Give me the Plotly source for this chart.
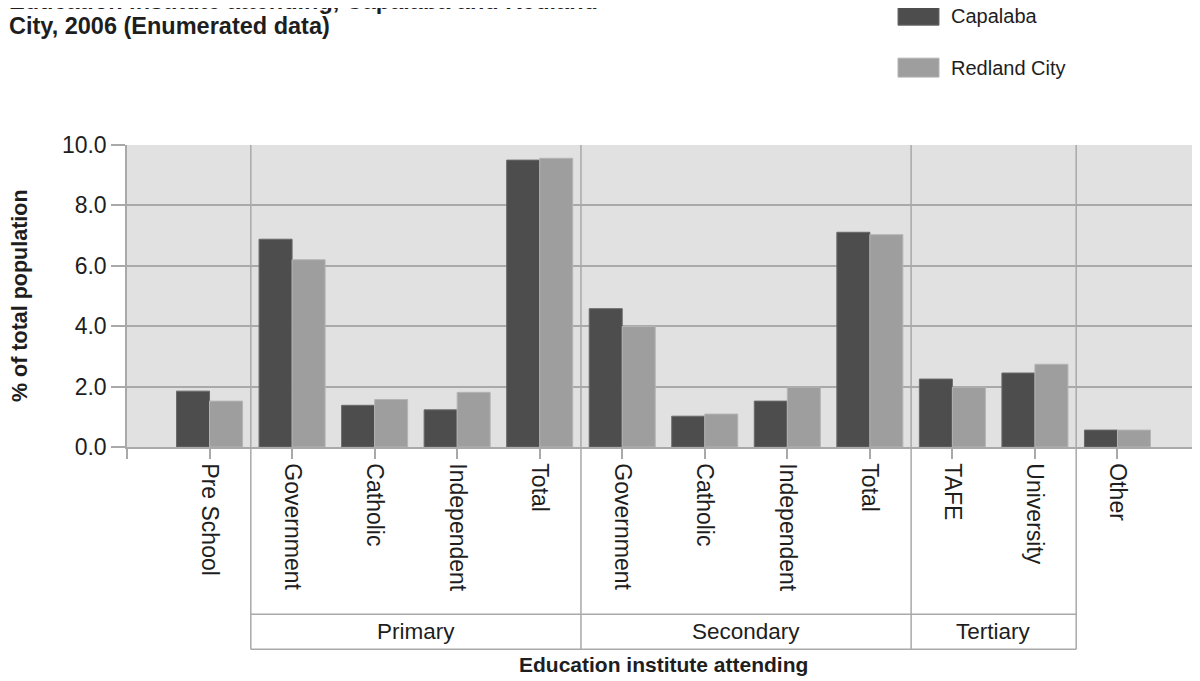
import plotly.graph_objects as go

categories = ["Pre School", "Government", "Catholic", "Independent", "Total",
              "Government", "Catholic", "Independent", "Total",
              "TAFE", "University", "Other"]
group_names = ["Primary", "Secondary", "Tertiary"]
group_first = [1, 5, 9]
group_last = [4, 8, 10]
series_names = ["Capalaba", "Redland City"]
capalaba = [1.85, 6.88, 1.38, 1.23, 9.50, 4.58, 1.02, 1.52, 7.11, 2.25, 2.45, 0.56]
redland = [1.52, 6.20, 1.57, 1.81, 9.56, 3.99, 1.09, 1.98, 7.03, 1.98, 2.74, 0.56]
y_ticks = [0, 2, 4, 6, 8, 10]
title_lines = ["Education institute attending, Capalaba and Redland",
               "City, 2006 (Enumerated data)"]

FONT = "Liberation Sans, Arial, sans-serif"
TXT = "#1e1e1e"
GRID = "#a9a9a9"
C1, C2 = "#4d4d4d", "#9e9e9e"

# page body has an 8px margin: figure origin sits at screen (8, 8)
OFF = 8
W, H = 1200, 681
L, R, T, B = 119, 8, 137, 241.5
pw, ph = W - L - R, H - T - B


def px(sx):
    return (sx - OFF - L) / pw


def py(sy):
    return (H - B - (sy - OFF)) / ph


xs = list(range(len(categories)))

fig = go.Figure()
fig.add_trace(go.Bar(x=xs, y=capalaba, name=series_names[0], marker_color=C1,
                     marker_line=dict(color="#6a6a6a", width=1)))
fig.add_trace(go.Bar(x=xs, y=redland, name=series_names[1], marker_color=C2,
                     marker_line=dict(color="#b4b4b4", width=1)))

shapes = []
boundaries = sorted(set([f - 0.5 for f in group_first] + [l + 0.5 for l in group_last]))
y_top_box = py(615)
y_bot_box = py(650)
for bx in boundaries:
    shapes.append(dict(type="line", xref="x", yref="paper", x0=bx, x1=bx,
                       y0=y_bot_box, y1=1, line=dict(color=GRID, width=1.5), layer="above"))
for yy in (y_top_box, y_bot_box):
    shapes.append(dict(type="line", xref="x", yref="paper",
                       x0=group_first[0] - 0.5, x1=group_last[-1] + 0.5,
                       y0=yy, y1=yy, line=dict(color=GRID, width=1.5)))

annotations = []
for g, f, l in zip(group_names, group_first, group_last):
    annotations.append(dict(text=g, xref="x", yref="paper", x=(f + l) / 2,
                            y=(y_top_box + y_bot_box) / 2, showarrow=False,
                            xanchor="center", yanchor="middle",
                            font=dict(family=FONT, size=22.5, color=TXT)))

# axis titles
annotations.append(dict(text="<b>Education institute attending</b>", xref="paper", yref="paper",
                        x=0.5, y=py(665), showarrow=False, xanchor="center", yanchor="middle",
                        font=dict(family=FONT, size=21, color=TXT)))
annotations.append(dict(text="<b>% of total population</b>", xref="paper", yref="paper",
                        x=px(20), y=0.5, showarrow=False, textangle=-90,
                        xanchor="center", yanchor="middle",
                        font=dict(family=FONT, size=21.5, color=TXT)))
# title (two lines, placed separately for tighter line spacing)
for line, bottom in zip(title_lines, [16, 41]):
    annotations.append(dict(text="<b>" + line + "</b>",
                            xref="paper", yref="paper", x=px(7), y=py(bottom), showarrow=False,
                            xanchor="left", yanchor="bottom", align="left",
                            font=dict(family=FONT, size=23.5, color=TXT)))

# legend
for name, col, lc, (y0, y1) in zip(series_names, [C1, C2], ["#6a6a6a", "#b4b4b4"], [(7, 25), (58, 77)]):
    shapes.append(dict(type="rect", xref="paper", yref="paper", x0=px(898), x1=px(939),
                       y0=py(y1), y1=py(y0), fillcolor=col, line=dict(color=lc, width=1)))
    annotations.append(dict(text=name, xref="paper", yref="paper", x=px(949), y=py((y0 + y1) / 2),
                            showarrow=False, xanchor="left", yanchor="middle",
                            font=dict(family=FONT, size=20, color=TXT)))

fig.update_layout(
    width=W, height=H,
    margin=dict(l=L, r=R, t=T, b=B, pad=0),
    paper_bgcolor="white", plot_bgcolor="#e1e1e1",
    barmode="group", bargap=0.2, bargroupgap=0,
    showlegend=False,
    font=dict(family=FONT, size=23, color=TXT),
    shapes=shapes, annotations=annotations,
)
fig.update_xaxes(range=[-1, len(categories)], tickmode="array",
                 tickvals=[-1] + xs, ticktext=[""] + categories,
                 tickangle=90, ticks="outside", ticklen=10, tickcolor=GRID, tickwidth=1.5,
                 showgrid=False, zeroline=False, showline=True, linecolor=GRID, linewidth=1.5,
                 tickfont=dict(family=FONT, size=23, color=TXT))
fig.update_yaxes(range=[0, 10], tickmode="array", tickvals=y_ticks,
                 tickformat=".1f", ticks="outside", ticklen=14, tickcolor=GRID, tickwidth=1.5,
                 showgrid=True, gridcolor=GRID, gridwidth=1.5, zeroline=False,
                 showline=True, linecolor=GRID, linewidth=1.5,
                 tickfont=dict(family=FONT, size=23, color=TXT))

fig.write_html("out.html")
